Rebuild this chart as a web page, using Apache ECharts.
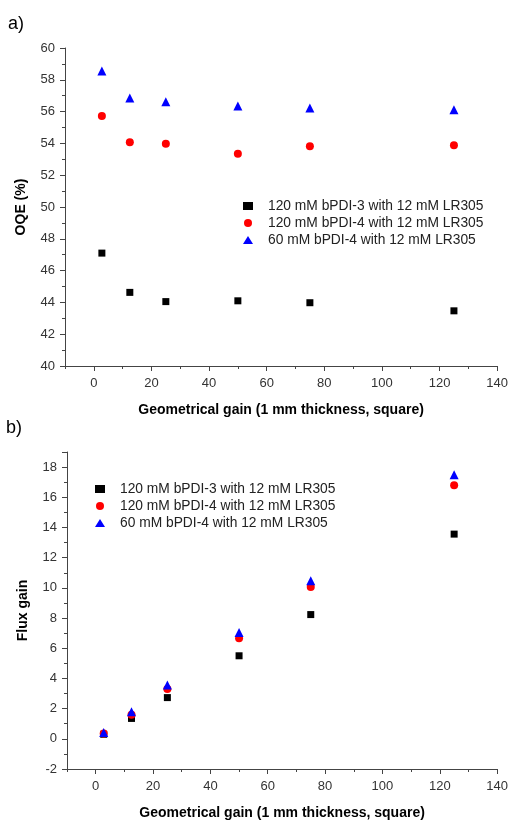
<!DOCTYPE html>
<html><head><meta charset="utf-8">
<script src="https://cdn.jsdelivr.net/npm/echarts@6/dist/echarts.min.js"></script>
<style>html,body{margin:0;padding:0;background:#fff}#c{width:511px;height:821px}</style>
</head><body><div id="c"></div>
<script>
const seriesNames = ['120 mM bPDI-3 with 12 mM LR305','120 mM bPDI-4 with 12 mM LR305','60 mM bPDI-4 with 12 mM LR305'];
const geoGain = [2.8, 12.5, 25, 50, 75, 125];
const oqe3_120 = [47.1, 44.63, 44.05, 44.1, 43.98, 43.47];
const oqe4_120 = [55.72, 54.07, 53.98, 53.35, 53.82, 53.88];
const oqe4_60 = [58.55, 56.85, 56.62, 56.35, 56.22, 56.12];
const flux3_120 = [0.3, 1.35, 2.73, 5.5, 8.23, 13.56];
const flux4_120 = [0.35, 1.6, 3.3, 6.66, 10.05, 16.8];
const flux4_60 = [0.42, 1.8, 3.56, 7.05, 10.47, 17.5];
const xMajor = [0, 20, 40, 60, 80, 100, 120, 140];

const symbols = ['rect','circle','triangle'];
const colors = ['#000000','#ff0000','#0000ff'];
const sizes = [7, 8, 9];
const font = 'Liberation Sans, Arial, sans-serif';

function pairs(xs, ys){ return xs.map((x,i)=>[x, ys[i]]); }

function xAxes(gi){
  return [{
    type:'value', gridIndex:gi, position:'bottom', min:-10, max:140, interval:10,
    axisLine:{show:true,onZero:false,lineStyle:{color:'#444',width:1}},
    axisTick:{show:true,length:3,lineStyle:{color:'#444'}},
    axisLabel:{color:'#333',fontSize:13,fontFamily:font,margin:11,
      formatter:v=> (v%20===0 && v>=0) ? String(v) : ''},
    splitLine:{show:false},
    name:'Geometrical gain (1 mm thickness, square)', nameLocation:'middle', nameGap:37,
    nameTextStyle:{color:'#000',fontSize:14,fontWeight:'bold',fontFamily:font}
  },{
    type:'value', gridIndex:gi, position:'bottom', min:-10, max:140,
    axisLine:{show:false,onZero:false},
    axisTick:{show:true,length:5,customValues:xMajor,lineStyle:{color:'#444'}},
    axisLabel:{show:false}, splitLine:{show:false}
  }];
}

function legendAt(l, t){
  return {orient:'vertical', left:l, top:t, itemWidth:10, itemHeight:8, itemGap:3,
    textStyle:{fontSize:13.8,lineHeight:14,color:'#222',fontFamily:font,padding:[0,0,0,10]},
    data:seriesNames};
}

const option = {
  animation:false,
  backgroundColor:'#fff',
  textStyle:{fontFamily:font},
  graphic:[
    {type:'text',left:8,top:15,style:{text:'a)',font:'18px '+font,fill:'#000'}},
    {type:'text',left:6,top:419,style:{text:'b)',font:'18px '+font,fill:'#000'}}
  ],
  grid:[
    {left:65, right:13, top:48, height:318},
    {left:67, right:13, top:452, height:318}
  ],
  legend:[ legendAt(238, 194), legendAt(90, 477) ],
  xAxis:[...xAxes(0), ...xAxes(1)],
  yAxis:[
    {type:'value', gridIndex:0, min:40, max:60, interval:2,
     axisLine:{show:true,onZero:false,lineStyle:{color:'#444'}},
     axisTick:{show:true,length:5,lineStyle:{color:'#444'}},
     minorTick:{show:true,splitNumber:2,length:3,lineStyle:{color:'#444'}},
     axisLabel:{color:'#333',fontSize:13,fontFamily:font,margin:10},
     splitLine:{show:false},
     name:'OQE (%)', nameLocation:'middle', nameGap:37,
     nameTextStyle:{color:'#000',fontSize:14,fontWeight:'bold',fontFamily:font}},
    {type:'value', gridIndex:1, min:-2, max:19, interval:2,
     axisLine:{show:true,onZero:false,lineStyle:{color:'#444'}},
     axisTick:{show:true,length:5,lineStyle:{color:'#444'}},
     minorTick:{show:true,splitNumber:2,length:3,lineStyle:{color:'#444'}},
     axisLabel:{color:'#333',fontSize:13,fontFamily:font,margin:10,showMaxLabel:false},
     splitLine:{show:false},
     name:'Flux gain', nameLocation:'middle', nameGap:37,
     nameTextStyle:{color:'#000',fontSize:14,fontWeight:'bold',fontFamily:font}}
  ],
  series:[]
};

const oqeSets = [oqe3_120, oqe4_120, oqe4_60];
const fluxSets = [flux3_120, flux4_120, flux4_60];
for (let k=0;k<3;k++){
  option.series.push({type:'scatter', name:seriesNames[k], xAxisIndex:0, yAxisIndex:0,
    symbol:symbols[k], symbolSize:sizes[k], itemStyle:{color:colors[k],opacity:1}, data:pairs(geoGain, oqeSets[k])});
}
for (let k=0;k<3;k++){
  option.series.push({type:'scatter', name:seriesNames[k], xAxisIndex:2, yAxisIndex:1,
    symbol:symbols[k], symbolSize:sizes[k], itemStyle:{color:colors[k],opacity:1}, data:pairs(geoGain, fluxSets[k])});
}

const chart = echarts.init(document.getElementById('c'), null, {renderer:'canvas'});
chart.setOption(option);
</script></body></html>
